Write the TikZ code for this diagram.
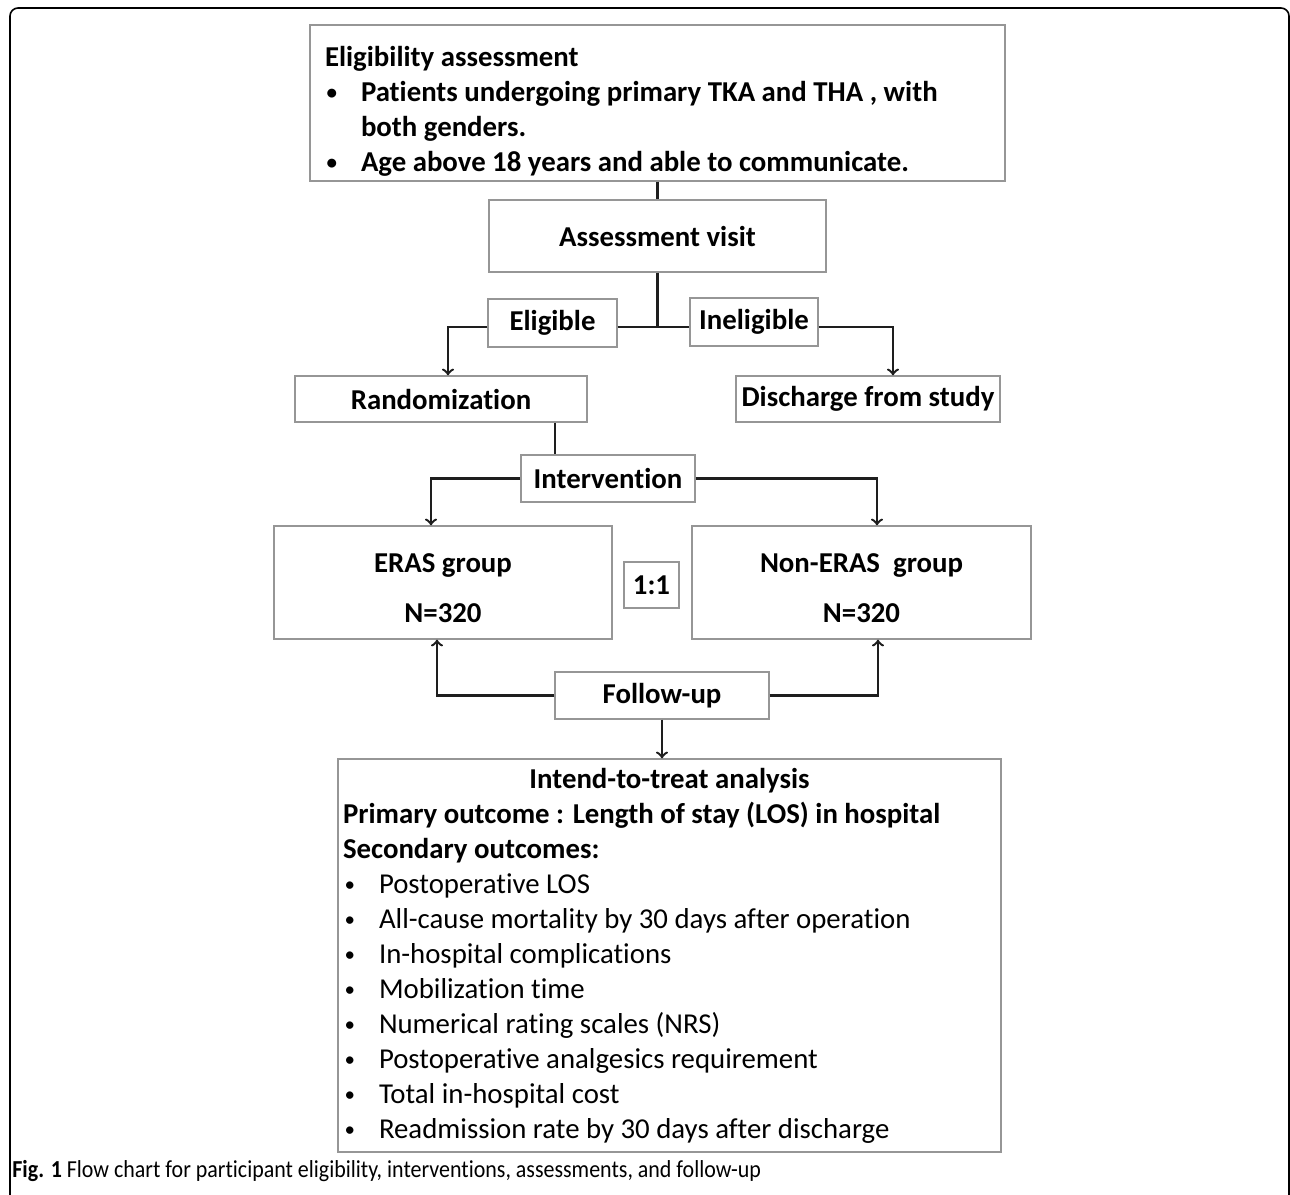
\documentclass[tikz,border=0pt]{standalone}
\usepackage{fontspec}
\setmainfont{Carlito}[Ligatures=CommonOff]
\newfontfamily\capfont[FakeStretch=0.9,Ligatures=CommonOff]{Carlito}
\usepackage{tikz}
\usetikzlibrary{calc}
\usetikzlibrary{positioning}
\definecolor{boxgray}{RGB}{150,150,150}
\definecolor{linegray}{RGB}{30,30,30}
\newcommand{\bitem}[1]{\par\hspace*{0.8pt}\makebox[17.2pt][l]{\raisebox{0.9pt}{\fontsize{10.5}{10.5}\selectfont\textbullet}}#1}

\begin{document}
\begin{tikzpicture}[x=0.5pt,y=-0.5pt,>=to,
	box/.style={draw=boxgray,line width=0.7pt,fill=white,inner sep=0pt,align=center,font=\bfseries\fontsize{14.4}{17.5}\selectfont,
		execute at begin node={\spaceskip=0pt\xspaceskip=0pt}},
	link/.style={draw=linegray,line width=1.2pt}]
	\useasboundingbox (0,0) rectangle (1290,1194);
	\draw[line width=0.8pt,rounded corners=4pt] (10,8) rectangle (1289,1240);
	
	\node[box,align=left,text width=332.5pt,inner xsep=7.5pt,minimum height=78pt] (elig) at (657.5,103) {\rule{0pt}{18.5pt}Eligibility assessment
		\bitem{Patients undergoing primary TKA and THA , with}
		\par\hspace*{18pt}both genders.
		\bitem{Age above 18 years and able to communicate.}};
	\node[box,minimum width=168.5pt,minimum height=36pt] (visit) at (657.5,236) {Assessment visit};
	\node[box,minimum width=64.5pt,minimum height=24pt] (eligible) at (552.5,323) {Eligible};
	\node[box,minimum width=64pt,minimum height=24pt] (inelig) at (754,322) {Ineligible};
	\node[box,minimum width=146pt,minimum height=23pt] (rand) at (441,399) {Randomization};
	\node[box,minimum width=132pt,minimum height=23pt] (disch) at (868,399) {Discharge from study};
	\node[box,minimum width=87pt,minimum height=23.5pt] (interv) at (608,478.5) {Intervention};
	\node[box,minimum width=169pt,minimum height=56.5pt] (eras) at (443,582.5) {\rule{0pt}{15.5pt}ERAS group\\[7.5pt]N=320};
	\node[box,minimum width=169.5pt,minimum height=56.5pt] (noneras) at (861.5,582.5) {\rule{0pt}{15.5pt}Non-ERAS\ \ group\\[7.5pt]N=320};
	\node[box,minimum width=27.5pt,minimum height=23pt] (ratio) at (651.5,585) {1:1};
	\node[box,minimum width=107pt,minimum height=23.5pt] (follow) at (662,695.5) {Follow-up};
	\node[box,align=left,text width=326.5pt,inner xsep=2.5pt,minimum height=196.5pt] (itt) at (669.5,955.5) {%
		{\centering Intend-to-treat analysis\par}
		Primary outcome : Length of stay (LOS) in hospital\par
		Secondary outcomes:\par
		\mdseries
		\bitem{Postoperative LOS}
		\bitem{All-cause mortality by 30 days after operation}
		\bitem{In-hospital complications}
		\bitem{Mobilization time}
		\bitem{Numerical rating scales (NRS)}
		\bitem{Postoperative analgesics requirement}
		\bitem{Total in-hospital cost}
		\bitem{Readmission rate by 30 days after discharge}};
	
	\coordinate (jn) at (657.5,327);
	\draw[link] (elig) -- (visit);
	\draw[link] (visit) -- (jn);
	\draw[link] (eligible.east |- jn) -- (inelig.west |- jn);
	\draw[link,->] (eligible.west |- jn) -| ([xshift=3.5pt]rand.north);
	\draw[link,->] (inelig.east |- jn) -| ([xshift=12.5pt]disch.north);
	\draw[link] ([xshift=57pt]rand.south) -- ([xshift=57pt]rand.south |- interv.north);
	\draw[link,->] (interv.west) -| ([xshift=-6pt]eras.north);
	\draw[link,->] (interv.east) -| ([xshift=7.75pt]noneras.north);
	\draw[link,->] (follow.west) -| ([xshift=-3pt]eras.south);
	\draw[link,->] (follow.east) -| ([xshift=8.25pt]noneras.south);
	\draw[link,->] (follow.south) -- (follow.south |- itt.north);
	
	\node[anchor=base west,inner sep=0pt,font=\capfont\fontsize{12.2}{14}\selectfont] (cap) at (12,1177) {\textbf{Fig. 1} Flow chart for participant eligibility, interventions, assessments, and follow-up};
\end{tikzpicture}
\end{document}
